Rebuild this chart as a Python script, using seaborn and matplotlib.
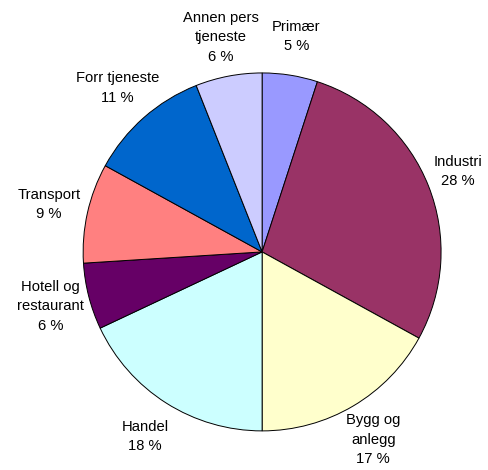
import matplotlib
matplotlib.use("Agg")
import matplotlib.pyplot as plt
import seaborn as sns

# Sector shares (%), clockwise from 12 o'clock
labels = ["Primær", "Industri", "Bygg og\nanlegg", "Handel", "Hotell og\nrestaurant",
          "Transport", "Forr tjeneste", "Annen pers\ntjeneste"]
shares = [5, 28, 17, 18, 6, 9, 11, 6]
colors = ["#9999FF", "#993366", "#FFFFCC", "#CCFFFF", "#660066",
          "#FF8080", "#0066CC", "#CCCCFF"]

sns.set_theme(style="white")
plt.rcParams["font.family"] = ["Liberation Sans", "DejaVu Sans"]

fig = plt.figure(figsize=(4.89, 4.70), dpi=100)
ax = fig.add_axes([0.170, 0.083, 0.732, 0.762])

text_labels = [f"{lab}\n{val} %" for lab, val in zip(labels, shares)]
wedges, texts = ax.pie(
    shares,
    labels=text_labels,
    colors=colors,
    startangle=90,
    counterclock=False,
    labeldistance=1.22,
    wedgeprops=dict(edgecolor="black", linewidth=0.7),
    textprops=dict(fontsize=10.6, color="black", linespacing=1.5),
)
for t in texts:
    t.set_horizontalalignment("center")
    t.set_verticalalignment("center")

# keep the right-hand label inside the canvas
x, y = texts[1].get_position()
texts[1].set_position((x - 0.04, y))

ax.set_xlim(-1.0, 1.0)
ax.set_ylim(-1.0, 1.0)
ax.set_aspect("equal")
ax.axis("off")

fig.savefig("out.png", dpi=100)
